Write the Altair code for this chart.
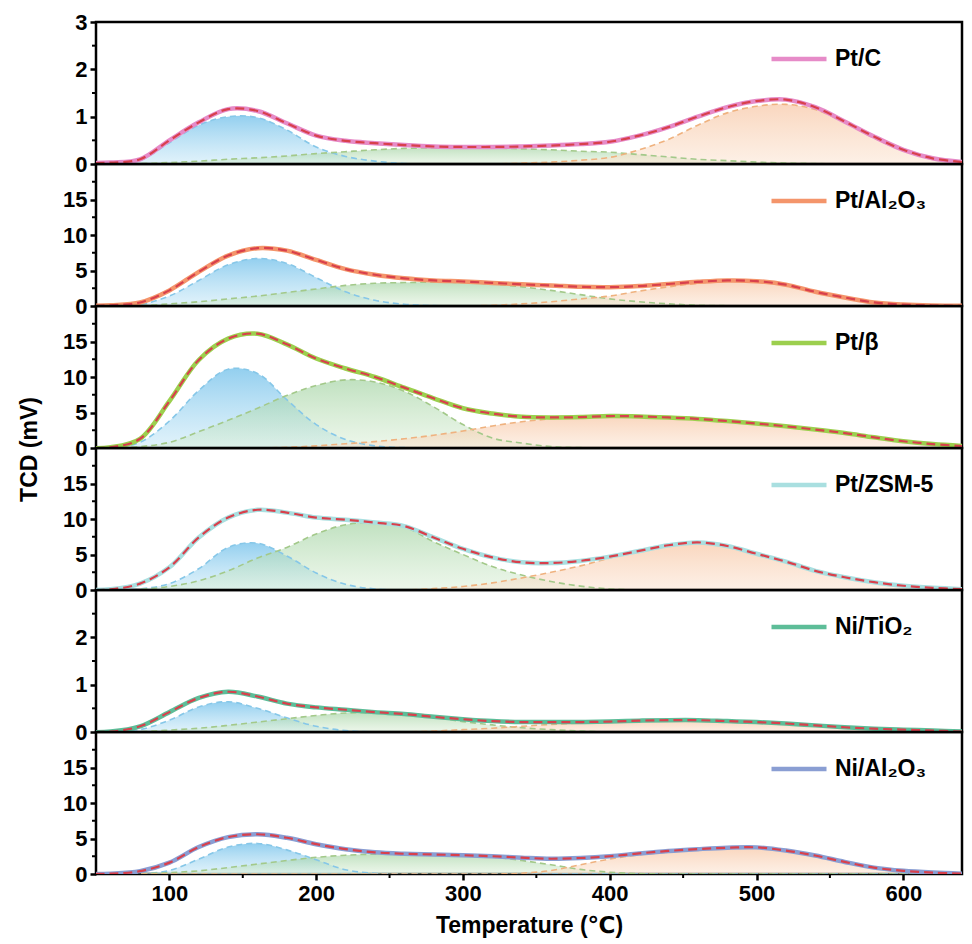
import altair as alt
import pandas as pd

FONT = "Liberation Sans, Arial, DejaVu Sans"

T = [40, 60, 80, 100, 120, 140, 160, 180, 200, 220, 240, 260, 280, 300, 320, 340,
     360, 380, 400, 420, 440, 460, 480, 500, 520, 540, 560, 580, 600, 620, 640]

# ---- Pt/C ----
ptc_total = [0.02, 0.03, 0.1, 0.5, 0.88, 1.16, 1.12, 0.86, 0.6, 0.49, 0.44, 0.4, 0.37, 0.36, 0.36, 0.37,
             0.39, 0.42, 0.47, 0.6, 0.78, 1.0, 1.2, 1.33, 1.36, 1.2, 0.9, 0.58, 0.3, 0.12, 0.04]
ptc_p1 = [0, 0, 0.08, 0.45, 0.82, 1.0, 0.98, 0.72, 0.36, 0.16, 0.06, 0.01, 0, 0, 0, 0,
          0, 0, 0, 0, 0, 0, 0, 0, 0, 0, 0, 0, 0, 0, 0]
ptc_p2 = [0, 0, 0.01, 0.03, 0.06, 0.1, 0.13, 0.17, 0.22, 0.26, 0.3, 0.33, 0.34, 0.35, 0.34, 0.32,
          0.3, 0.27, 0.25, 0.2, 0.15, 0.1, 0.07, 0.04, 0.02, 0.01, 0, 0, 0, 0, 0]
ptc_p3 = [0, 0, 0, 0, 0, 0, 0, 0, 0, 0, 0, 0, 0, 0, 0, 0.02,
          0.04, 0.08, 0.14, 0.3, 0.52, 0.82, 1.08, 1.22, 1.26, 1.15, 0.88, 0.55, 0.28, 0.11, 0.04]

# ---- Pt/Al2O3 ----
ptal_total = [0, 0.1, 0.5, 2.2, 4.8, 7.1, 8.15, 7.8, 6.5, 5.2, 4.4, 3.9, 3.6, 3.45, 3.25, 3.05,
              2.9, 2.7, 2.65, 2.8, 3.1, 3.4, 3.6, 3.5, 3.0, 2.0, 1.2, 0.5, 0.2, 0.07, 0.02]
ptal_p1 = [0, 0, 0.2, 1.4, 3.6, 5.8, 6.7, 6.0, 4.0, 2.0, 0.8, 0.25, 0.05, 0, 0, 0,
           0, 0, 0, 0, 0, 0, 0, 0, 0, 0, 0, 0, 0, 0, 0]
ptal_p2 = [0, 0, 0.05, 0.3, 0.6, 1.0, 1.4, 1.9, 2.4, 2.9, 3.2, 3.3, 3.35, 3.3, 3.1, 2.7,
           2.2, 1.6, 1.0, 0.6, 0.3, 0.12, 0.04, 0, 0, 0, 0, 0, 0, 0, 0]
ptal_p3 = [0, 0, 0, 0, 0, 0, 0, 0, 0, 0, 0, 0, 0, 0, 0.1, 0.3,
           0.6, 1.0, 1.4, 2.1, 2.7, 3.2, 3.5, 3.4, 2.9, 2.0, 1.15, 0.5, 0.2, 0.07, 0.02]

# ---- Pt/beta ----
ptb_total = [0, 0.1, 1.3, 6.6, 12.4, 15.4, 16.1, 14.6, 12.6, 11.2, 10.0, 8.5, 7.0, 5.6, 4.85, 4.4,
             4.3, 4.35, 4.5, 4.45, 4.3, 4.1, 3.8, 3.45, 3.05, 2.6, 2.1, 1.5, 0.95, 0.55, 0.28]
ptb_p1 = [0, 0.05, 0.8, 3.8, 8.1, 11.1, 10.5, 6.8, 3.3, 1.2, 0.3, 0.05, 0, 0, 0, 0,
          0, 0, 0, 0, 0, 0, 0, 0, 0, 0, 0, 0, 0, 0, 0]
ptb_p2 = [0, 0, 0.2, 0.8, 2.3, 3.9, 5.6, 7.4, 8.8, 9.6, 9.3, 8.0, 5.8, 3.3, 1.4, 0.7,
          0.2, 0.05, 0, 0, 0, 0, 0, 0, 0, 0, 0, 0, 0, 0, 0]
ptb_p3 = [0, 0, 0, 0, 0, 0, 0, 0.1, 0.3, 0.6, 0.9, 1.3, 1.8, 2.4, 3.1, 3.7,
          4.1, 4.35, 4.45, 4.4, 4.25, 4.0, 3.7, 3.4, 3.0, 2.5, 2.0, 1.4, 0.9, 0.5, 0.25]

# ---- Pt/ZSM-5 ----
ptz_total = [0, 0.1, 0.9, 3.2, 7.4, 10.2, 11.3, 10.9, 10.2, 9.9, 9.5, 9.0, 7.4, 5.8, 4.6, 3.9,
             3.8, 4.1, 4.7, 5.5, 6.3, 6.7, 6.2, 5.1, 4.0, 2.7, 1.8, 1.1, 0.6, 0.3, 0.12]
ptz_p1 = [0, 0, 0.15, 0.9, 3.0, 6.0, 6.6, 4.8, 2.4, 0.8, 0.15, 0, 0, 0, 0, 0,
          0, 0, 0, 0, 0, 0, 0, 0, 0, 0, 0, 0, 0, 0, 0]
ptz_p2 = [0, 0, 0.1, 0.5, 1.3, 2.7, 4.5, 6.0, 7.9, 9.2, 9.5, 8.9, 6.8, 5.0, 3.3, 2.1,
          1.2, 0.55, 0.15, 0, 0, 0, 0, 0, 0, 0, 0, 0, 0, 0, 0]
ptz_p3 = [0, 0, 0, 0, 0, 0, 0, 0, 0, 0, 0, 0, 0.2, 0.5, 1.0, 1.7,
          2.5, 3.4, 4.5, 5.5, 6.3, 6.6, 6.1, 5.0, 3.9, 2.7, 1.7, 1.0, 0.55, 0.25, 0.1]

# ---- Ni/TiO2 ----
nit_total = [0, 0.01, 0.12, 0.42, 0.72, 0.85, 0.75, 0.6, 0.52, 0.47, 0.42, 0.38, 0.32, 0.27, 0.23, 0.21,
             0.21, 0.21, 0.22, 0.24, 0.25, 0.25, 0.23, 0.21, 0.18, 0.14, 0.1, 0.07, 0.05, 0.03, 0.01]
nit_p1 = [0, 0, 0.05, 0.25, 0.53, 0.64, 0.5, 0.3, 0.12, 0.03, 0, 0, 0, 0, 0, 0,
          0, 0, 0, 0, 0, 0, 0, 0, 0, 0, 0, 0, 0, 0, 0]
nit_p2 = [0, 0, 0.01, 0.04, 0.08, 0.14, 0.21, 0.28, 0.35, 0.4, 0.4, 0.36, 0.31, 0.22, 0.15, 0.09,
          0.05, 0.02, 0, 0, 0, 0, 0, 0, 0, 0, 0, 0, 0, 0, 0]
nit_p3 = [0, 0, 0, 0, 0, 0, 0, 0, 0, 0, 0, 0, 0.02, 0.05, 0.08, 0.12,
          0.16, 0.19, 0.21, 0.23, 0.25, 0.25, 0.23, 0.21, 0.18, 0.14, 0.1, 0.07, 0.05, 0.03, 0.01]

# ---- Ni/Al2O3 ----
nia_total = [0, 0.05, 0.4, 1.6, 3.8, 5.2, 5.6, 5.1, 4.2, 3.5, 3.05, 2.85, 2.75, 2.65, 2.5, 2.3,
             2.15, 2.25, 2.5, 2.9, 3.25, 3.5, 3.7, 3.75, 3.3, 2.6, 1.7, 0.9, 0.45, 0.2, 0.05]
nia_p1 = [0, 0, 0.05, 0.5, 2.1, 3.8, 4.3, 3.4, 2.0, 0.6, 0.1, 0, 0, 0, 0, 0,
          0, 0, 0, 0, 0, 0, 0, 0, 0, 0, 0, 0, 0, 0, 0]
nia_p2 = [0, 0, 0.05, 0.2, 0.45, 0.9, 1.4, 1.9, 2.35, 2.65, 2.8, 2.85, 2.8, 2.7, 2.4, 1.9,
          1.3, 0.65, 0.25, 0.05, 0, 0, 0, 0, 0, 0, 0, 0, 0, 0, 0]
nia_p3 = [0, 0, 0, 0, 0, 0, 0, 0, 0, 0, 0, 0, 0, 0, 0, 0.1,
          0.5, 1.3, 2.1, 2.7, 3.1, 3.4, 3.6, 3.65, 3.2, 2.5, 1.65, 0.85, 0.4, 0.18, 0.05]

names = ["Pt/C", "Pt/Al\u2082O\u2083", "Pt/\u03b2", "Pt/ZSM-5", "Ni/TiO\u2082", "Ni/Al\u2082O\u2083"]
line_colors = ["#E68BC8", "#F4956B", "#9CCF4E", "#A9DFE0", "#5DBD98", "#8A9ED3"]
y_max = [3, 20, 20, 20, 3, 20]
y_ticks = [[0, 1, 2, 3], [0, 5, 10, 15], [0, 5, 10, 15], [0, 5, 10, 15], [0, 1, 2], [0, 5, 10, 15]]
y_minor = [[0.5, 1.5, 2.5], [2.5, 7.5, 12.5, 17.5], [2.5, 7.5, 12.5, 17.5],
           [2.5, 7.5, 12.5, 17.5], [0.5, 1.5, 2.5], [2.5, 7.5, 12.5, 17.5]]
x_ticks = [100, 200, 300, 400, 500, 600]
x_minor = [150, 250, 350, 450, 550]

totals = [ptc_total, ptal_total, ptb_total, ptz_total, nit_total, nia_total]
peak1 = [ptc_p1, ptal_p1, ptb_p1, ptz_p1, nit_p1, nia_p1]
peak2 = [ptc_p2, ptal_p2, ptb_p2, ptz_p2, nit_p2, nia_p2]
peak3 = [ptc_p3, ptal_p3, ptb_p3, ptz_p3, nit_p3, nia_p3]

FIT_COLOR = "#D8404C"
outline = {"p1": "#86C7E8", "p2": "#A3C98A", "p3": "#EFB27F"}
fills = {
    "p1": ["rgba(120,195,235,0.80)", "rgba(200,232,247,0.55)"],
    "p2": ["rgba(150,205,150,0.60)", "rgba(215,237,210,0.45)"],
    "p3": ["rgba(246,188,148,0.60)", "rgba(251,226,206,0.50)"],
}

W, H = 866, 142
INTERP = "catmull-rom"
xscale = alt.Scale(domain=[50, 640], nice=False, zero=False)


def gradient(key):
    a, b = fills[key]
    return alt.Gradient(gradient="linear",
                        stops=[alt.GradientStop(offset=0, color=a), alt.GradientStop(offset=1, color=b)],
                        x1=0, x2=0, y1=0, y2=1)


panels = []
for i in range(6):
    last = i == 5
    df = pd.DataFrame({"T": T, "total": totals[i], "p1": peak1[i], "p2": peak2[i],
                       "p3": peak3[i], "series": names[i]})
    if last:
        xaxis = alt.Axis(values=x_ticks, title="Temperature (\u2103)", titlePadding=10)
    else:
        xaxis = None
    yscale = alt.Scale(domain=[0, y_max[i]], nice=False, zero=True)
    if i == 2:
        yaxis = alt.Axis(values=y_ticks[i], title="TCD (mV)", titleX=-67, titleY=143,
                         titleAngle=-90, titleAlign="center", titleBaseline="middle")
    else:
        yaxis = alt.Axis(values=y_ticks[i], title=None)
    x = alt.X("T:Q", scale=xscale, axis=xaxis)
    base = alt.Chart(df)
    layers = []
    for key in ["p1", "p2", "p3"]:
        layers.append(base.mark_area(color=gradient(key), interpolate=INTERP, clip=True)
                      .encode(x=x, y=alt.Y(f"{key}:Q", scale=yscale, axis=yaxis)))
    for key in ["p1", "p2", "p3"]:
        layers.append(base.mark_line(stroke=outline[key], strokeDash=[6, 4], strokeWidth=1.6,
                                     interpolate=INTERP, clip=True)
                      .encode(x=x, y=alt.Y(f"{key}:Q", scale=yscale, axis=yaxis)))
    minor_df = pd.DataFrame({"v": y_minor[i]})
    layers.append(alt.Chart(minor_df).mark_rule(color="black", strokeWidth=2)
                  .encode(y=alt.Y("v:Q", scale=yscale, axis=yaxis), x=alt.value(-4), x2=alt.value(0)))
    if last:
        xm_df = pd.DataFrame({"v": x_minor})
        layers.append(alt.Chart(xm_df).mark_rule(color="black", strokeWidth=2)
                      .encode(x=alt.X("v:Q", scale=xscale, axis=xaxis), y=alt.value(H), y2=alt.value(H + 4)))
    layers.append(base.mark_line(strokeWidth=4.5, interpolate=INTERP, clip=True)
                  .encode(x=x, y=alt.Y("total:Q", scale=yscale, axis=yaxis),
                          color=alt.Color("series:N",
                                          scale=alt.Scale(domain=[names[i]], range=[line_colors[i]]),
                                          legend=alt.Legend(orient="none", legendX=673, legendY=7,
                                                            title=None, symbolType="stroke",
                                                            symbolSize=3025, symbolStrokeWidth=4.5,
                                                            labelFontSize=23, labelFontWeight="bold",
                                                            labelFont=FONT, labelColor="black",
                                                            labelOffset=6, padding=0))))
    layers.append(base.mark_line(color=FIT_COLOR, strokeDash=[9, 5], strokeWidth=2.2,
                                 interpolate=INTERP, clip=True)
                  .encode(x=x, y=alt.Y("total:Q", scale=yscale, axis=yaxis)))
    panels.append(alt.layer(*layers).properties(width=W, height=H))

chart = (alt.vconcat(*panels, spacing=0, bounds="flush")
         .resolve_scale(color="independent", y="independent")
         .properties(padding={"left": 8, "top": 1, "right": 0, "bottom": 0})
         .configure_view(stroke="black", strokeWidth=2.5)
         .configure_axis(labelFont=FONT, labelFontSize=22, labelFontWeight="bold", labelColor="black",
                         labelPadding=3, tickColor="black", tickWidth=2.5, tickSize=6,
                         domain=False, grid=False, titleFont=FONT, titleFontSize=23,
                         titleFontWeight="bold", titleColor="black"))

chart.save("out.html", embed_options={"renderer": "svg", "actions": False})
